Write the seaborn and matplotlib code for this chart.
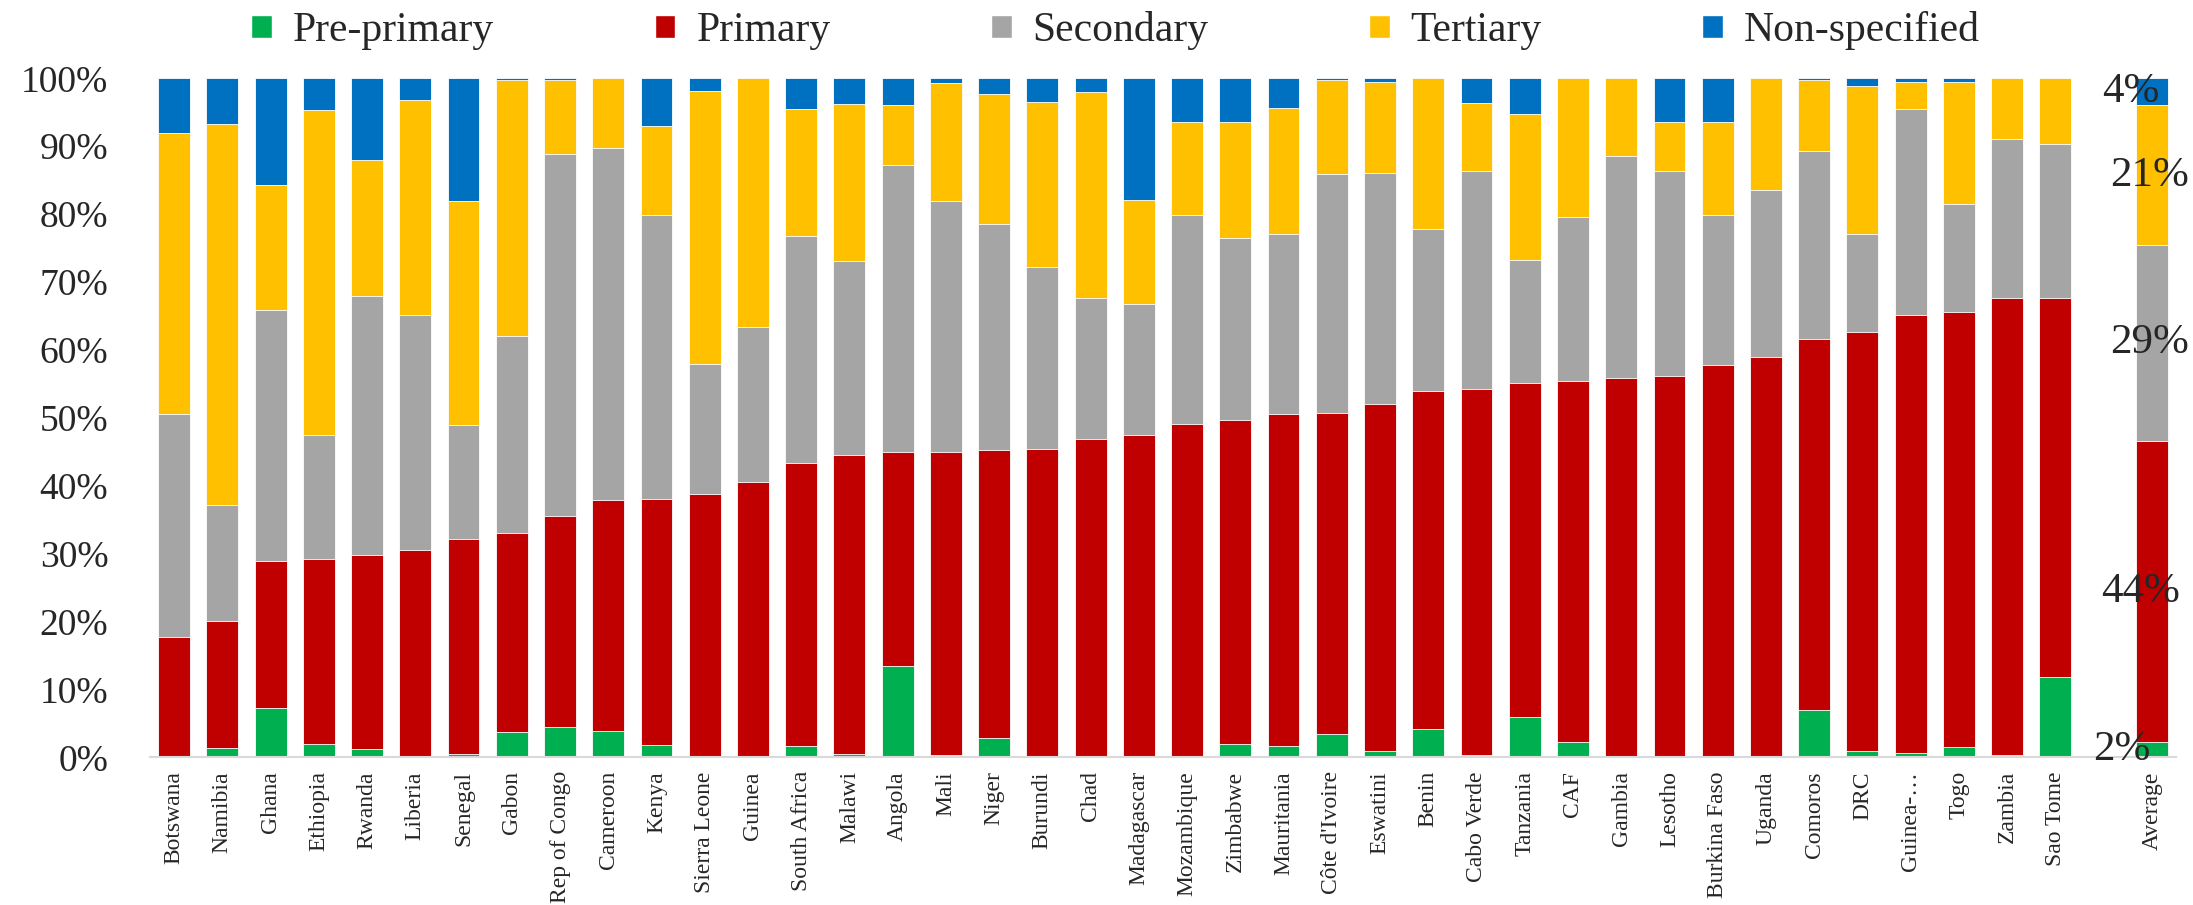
import numpy as np
import pandas as pd
import seaborn as sns
import matplotlib.pyplot as plt
from matplotlib.patches import Patch

countries = ["Botswana", "Namibia", "Ghana", "Ethiopia", "Rwanda", "Liberia", "Senegal",
             "Gabon", "Rep of Congo", "Cameroon", "Kenya", "Sierra Leone", "Guinea",
             "South Africa", "Malawi", "Angola", "Mali", "Niger", "Burundi", "Chad",
             "Madagascar", "Mozambique", "Zimbabwe", "Mauritania", "Côte d'Ivoire",
             "Eswatini", "Benin", "Cabo Verde", "Tanzania", "CAF", "Gambia", "Lesotho",
             "Burkina Faso", "Uganda", "Comoros", "DRC", "Guinea-…", "Togo", "Zambia",
             "Sao Tome", "Average"]

pre_primary = [0.0, 1.4, 7.2, 1.9, 1.2, 0.0, 0.5, 3.8, 4.4, 3.9, 1.8, 0.0, 0.0, 1.6, 0.5,
               13.5, 0.3, 2.8, 0.0, 0.2, 0.1, 0.0, 1.9, 1.6, 3.4, 1.0, 4.2, 0.4, 5.9, 2.2,
               0.0, 0.1, 0.0, 0.0, 6.9, 0.9, 0.7, 1.5, 0.3, 11.9, 2.2]
primary = [17.7, 18.6, 21.7, 27.3, 28.6, 30.6, 31.7, 29.2, 31.1, 34.0, 36.3, 38.8, 40.5,
           41.8, 44.0, 31.4, 44.7, 42.5, 45.4, 46.7, 47.3, 49.1, 47.8, 49.0, 47.3, 51.0,
           49.8, 53.9, 49.2, 53.2, 55.8, 56.1, 57.8, 59.0, 54.7, 61.7, 64.4, 64.1, 67.4,
           55.8, 44.4]
secondary = [32.8, 17.1, 37.0, 18.2, 38.2, 34.6, 16.8, 29.0, 53.3, 51.8, 41.7, 19.1, 22.8,
             33.3, 28.6, 42.4, 37.0, 33.3, 26.8, 20.8, 19.4, 30.7, 26.8, 26.4, 35.2, 34.0,
             23.8, 32.0, 18.2, 24.1, 32.8, 30.1, 22.1, 24.6, 27.7, 14.4, 30.4, 15.9, 23.3,
             22.6, 28.8]
tertiary = [41.5, 56.1, 18.4, 48.0, 20.0, 31.6, 32.9, 37.8, 11.0, 10.3, 13.2, 40.2, 36.7,
            18.8, 23.1, 8.8, 17.3, 19.1, 24.3, 30.3, 15.3, 13.7, 17.0, 18.6, 13.9, 13.4,
            22.2, 10.0, 21.5, 20.5, 11.4, 7.3, 13.7, 16.4, 10.4, 21.8, 4.0, 18.0, 9.0,
            9.7, 20.6]
non_specified = [8.0, 6.8, 15.7, 4.6, 12.0, 3.2, 18.1, 0.2, 0.2, 0.0, 7.0, 1.9, 0.0, 4.5,
                 3.8, 3.9, 0.7, 2.3, 3.5, 2.0, 17.9, 6.5, 6.5, 4.4, 0.2, 0.6, 0.0, 3.7,
                 5.2, 0.0, 0.0, 6.4, 6.4, 0.0, 0.3, 1.2, 0.5, 0.5, 0.0, 0.0, 4.0]

levels = ["Pre-primary", "Primary", "Secondary", "Tertiary", "Non-specified"]
colors = ["#00B050", "#C00000", "#A5A5A5", "#FFC000", "#0070C0"]

df = pd.DataFrame({"country": countries, "Pre-primary": pre_primary, "Primary": primary,
                   "Secondary": secondary, "Tertiary": tertiary,
                   "Non-specified": non_specified})
totals = df[levels].sum(axis=1)
cum = df[levels].cumsum(axis=1).div(totals, axis=0) * 100
cum["country"] = df["country"]

# blank slot between the countries and the average bar
order = countries[:-1] + [" "] + ["Average"]

sns.set_style("white")
plt.rcParams["font.family"] = ["Liberation Serif", "DejaVu Serif"]

fig = plt.figure(figsize=(21.93, 9.05), dpi=100)
ax = fig.add_axes([0.0684, 0.1632, 0.9238, 0.7503])

# stacked bars: draw cumulative tops from the top level down
for lev, col in zip(levels[::-1], colors[::-1]):
    sns.barplot(data=cum, x="country", y=lev, order=order, color=col, saturation=1,
                width=0.66, errorbar=None, edgecolor="white", linewidth=0.6, ax=ax)

ax.set_xlim(-0.5, len(order) - 0.5)
ax.set_ylim(0, 100)
ax.set_yticks(np.arange(0, 101, 10))
ax.set_yticklabels([f"{v}%" for v in range(0, 101, 10)], fontsize=27)
ax.tick_params(axis="y", length=0, pad=30)
ax.tick_params(axis="x", length=0, pad=10, labelrotation=90, labelsize=17)
ax.set_xlabel("")
ax.set_ylabel("")
for s in ["left", "right", "top"]:
    ax.spines[s].set_visible(False)
ax.spines["bottom"].set_color("#D9D9D9")
ax.spines["bottom"].set_linewidth(1.5)

# data labels on the average bar
avg_idx = order.index("Average")
avg = df[df["country"] == "Average"][levels].iloc[0]
avg_cum = avg.cumsum() / avg.sum() * 100
label_dx = [-0.63, -0.24, -0.04, -0.04, -0.43]
prev = 0
for lev, dx in zip(levels, label_dx):
    mid = (prev + avg_cum[lev]) / 2
    ax.text(avg_idx + dx, mid, f"{avg[lev]:.0f}%", ha="center", va="center", fontsize=31)
    prev = avg_cum[lev]

handles = [Patch(facecolor=c, label=l) for l, c in zip(levels, colors)]
fig.legend(handles=handles, loc="center", bbox_to_anchor=(0.5087, 0.966), ncol=5,
           frameon=False, fontsize=30, handlelength=0.5, handleheight=0.5,
           handletextpad=0.5, columnspacing=3.85)

fig.savefig("out.png", dpi=100)
